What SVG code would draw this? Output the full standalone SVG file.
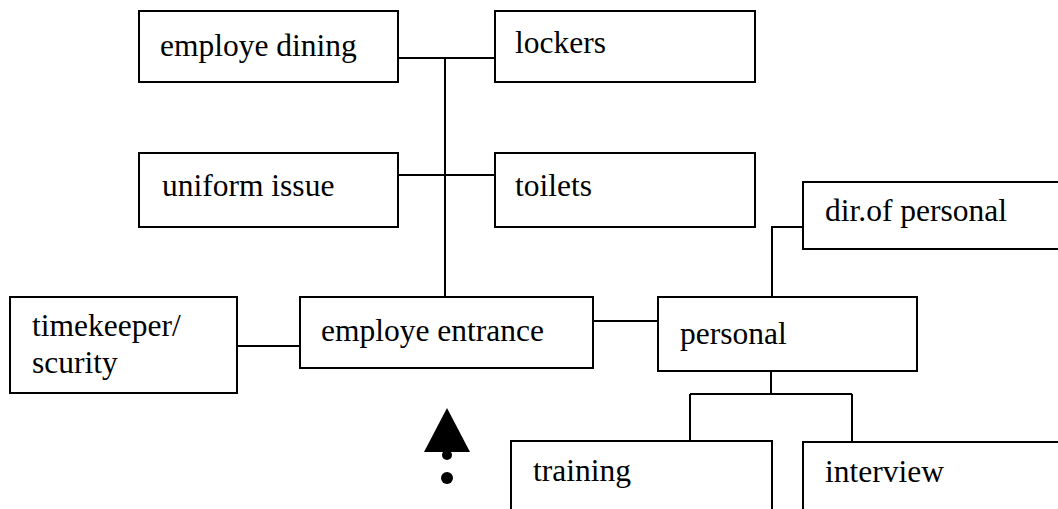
<svg xmlns="http://www.w3.org/2000/svg" width="1058" height="509" viewBox="0 0 1058 509">
<style>
.box{fill:#fff;stroke:#000;stroke-width:2}
text{font-family:'Liberation Serif','Times New Roman',serif;font-size:31.5px;fill:#000}
.c{fill:none;stroke:#000;stroke-width:2}
</style>
<rect width="1058" height="509" fill="#fff"/>
<g id="connectors">
<path class="c" d="M398 58H494M445 58V297M398 175H494M237 346H300M593 321H658M772 297V227H803M771 371V394M690 394H852M690 394V441M852 394V442"/>
</g>
<g id="dining"><rect class="box" x="139" y="11" width="259" height="71"/><text x="160" y="56">employe dining</text></g>
<g id="lockers"><rect class="box" x="495" y="11" width="260" height="71"/><text x="515" y="53">lockers</text></g>
<g id="uniform"><rect class="box" x="139" y="153" width="259" height="74"/><text x="162" y="196">uniform issue</text></g>
<g id="toilets"><rect class="box" x="495" y="153" width="260" height="74"/><text x="515" y="196">toilets</text></g>
<g id="dir"><rect class="box" x="803" y="182" width="270" height="67"/><text x="825" y="221">dir.of personal</text></g>
<g id="timekeeper"><rect class="box" x="10" y="297" width="227" height="96"/><text x="32" y="336">timekeeper/</text><text x="32" y="373">scurity</text></g>
<g id="entrance"><rect class="box" x="300" y="297" width="293" height="71"/><text x="321" y="341">employe entrance</text></g>
<g id="personal"><rect class="box" x="658" y="297" width="259" height="74"/><text x="680" y="344">personal</text></g>
<g id="training"><path class="c" d="M511 520V441H772V520"/><text x="533" y="481">training</text></g>
<g id="interview"><path class="c" d="M803 520V442H1070"/><text x="825" y="482">interview</text></g>
<g id="arrow"><polygon points="447,408 424,452 470,452" fill="#000"/><circle cx="447" cy="455" r="5" fill="#000"/><circle cx="447" cy="478" r="6" fill="#000"/></g>
</svg>
